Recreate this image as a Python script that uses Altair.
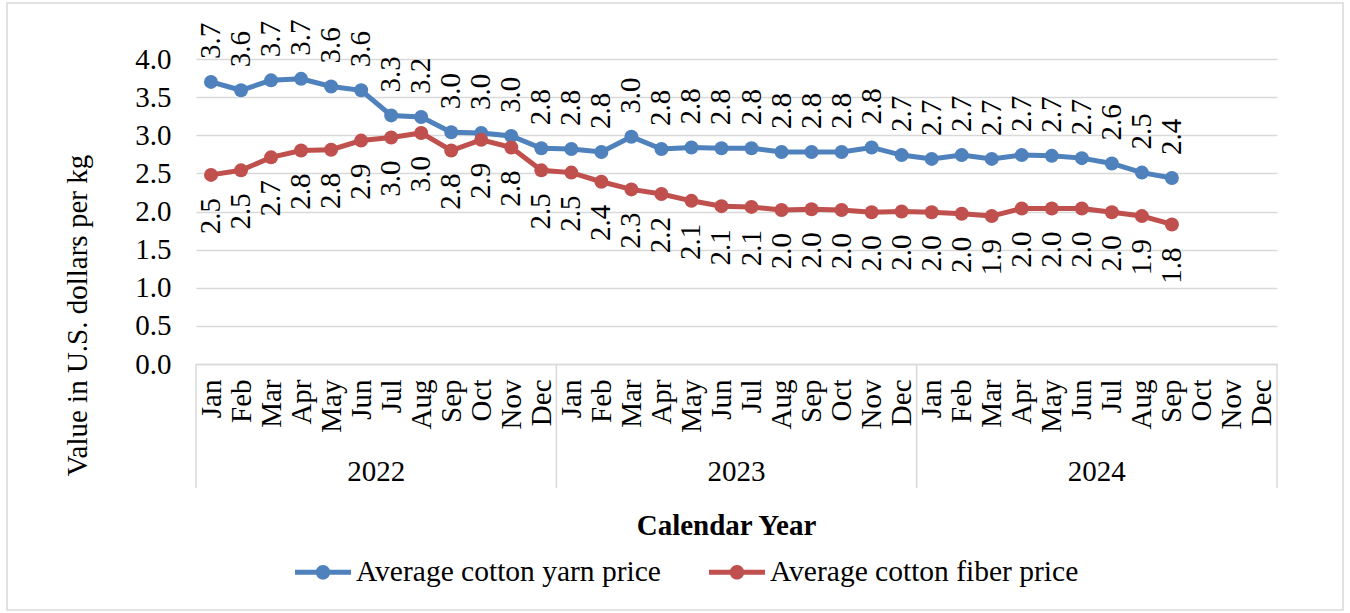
import altair as alt
import pandas as pd

MONTHS = ["Jan", "Feb", "Mar", "Apr", "May", "Jun", "Jul", "Aug", "Sep", "Oct", "Nov", "Dec"]
YEARS = ["2022", "2023", "2024"]

yarn = [3.70, 3.59, 3.72, 3.74, 3.64, 3.59, 3.26, 3.24, 3.04, 3.03, 2.99, 2.83,
        2.82, 2.78, 2.98, 2.82, 2.84, 2.83, 2.83, 2.78, 2.78, 2.78, 2.84, 2.74,
        2.69, 2.74, 2.69, 2.74, 2.73, 2.70, 2.63, 2.51, 2.44]
fiber = [2.48, 2.54, 2.71, 2.80, 2.81, 2.93, 2.97, 3.03, 2.80, 2.94, 2.84, 2.54,
         2.51, 2.39, 2.29, 2.23, 2.14, 2.07, 2.06, 2.02, 2.03, 2.02, 1.99, 2.00,
         1.99, 1.97, 1.94, 2.04, 2.04, 2.04, 1.99, 1.94, 1.83]

YARN = "Average cotton yarn price"
FIBER = "Average cotton fiber price"
BLUE = "#4F81BD"
RED = "#C0504D"
FONT = "Liberation Serif"
FS = 29
GRID = "#d9d9d9"

rows = []
for name, vals in ((YARN, yarn), (FIBER, fiber)):
    for i, v in enumerate(vals):
        rows.append({"pos": i + 0.5, "value": v, "series": name})
df = pd.DataFrame(rows)

years_df = pd.DataFrame({"year": YEARS, "center": [12 * i + 6 for i in range(len(YEARS))]})
bounds_df = pd.DataFrame({"b": [12 * i for i in range(len(YEARS) + 1)]})

n_slots = 12 * len(YEARS)
month_js = "[" + ",".join("'%s'" % m for m in MONTHS) + "]"

W, H = 1081, 305

xscale = alt.Scale(domain=[0, n_slots], nice=False, zero=False)
yscale = alt.Scale(domain=[0, 4], nice=False)
cscale = alt.Scale(domain=[YARN, FIBER], range=[BLUE, RED])

xaxis = alt.Axis(values=[i + 0.5 for i in range(n_slots)],
                 labelExpr=month_js + "[floor(datum.value) % 12]",
                 labelAngle=270, labelAlign="right", labelBaseline="middle",
                 labelPadding=15, ticks=False, grid=False,
                 domainColor=GRID, domainWidth=1.5,
                 labelFont=FONT, labelFontSize=FS, labelColor="black",
                 titleFont=FONT, titleFontSize=FS, titleColor="black",
                 title="Calendar Year", titleFontWeight="bold",
                 titleX=530, titleY=161, titleBaseline="middle",
                 titleAlign="center")
yaxis = alt.Axis(values=[i * 0.5 for i in range(9)], format=".1f",
                 ticks=False, domain=False, gridColor=GRID, gridWidth=1.5,
                 labelFont=FONT, labelFontSize=FS, labelColor="black",
                 titleFont=FONT, titleFontSize=FS, titleColor="black",
                 labelPadding=25, title="Value in U.S. dollars per kg",
                 titleFontWeight="normal", titleX=-119, titleY=256,
                 titleAngle=270, titleAlign="center",
                 titleBaseline="middle")

sym = ("M-1,-0.09L1,-0.09L1,0.09L-1,0.09Z"
       "M-0.26,0A0.26,0.26,0,1,1,0.26,0A0.26,0.26,0,1,1,-0.26,0Z")
legend = alt.Legend(orient="none", legendX=99, legendY=485,
                    direction="horizontal", title=None,
                    symbolType=sym, symbolSize=3136,
                    symbolStrokeWidth=0, symbolOpacity=1,
                    labelFont=FONT, labelFontSize=29.5,
                    labelColor="black", labelLimit=600,
                    columnPadding=48, labelOffset=5)


def X(field):
    return alt.X(field, scale=xscale, axis=xaxis)


def Y(field):
    return alt.Y(field, scale=yscale, axis=yaxis)


base = alt.Chart(df)

lines = base.mark_line(strokeWidth=5).encode(
    x=X("pos:Q"), y=Y("value:Q"),
    color=alt.Color("series:N", scale=cscale, legend=legend),
)

points = base.mark_point(filled=True, size=196, opacity=1).encode(
    x=X("pos:Q"), y=Y("value:Q"),
    color=alt.Color("series:N", scale=cscale, legend=legend),
)

yarn_labels = base.transform_filter(alt.datum.series == YARN).mark_text(
    angle=270, align="left", baseline="middle", dx=23,
    font=FONT, fontSize=FS, color="black",
).encode(
    x=X("pos:Q"), y=Y("value:Q"),
    text=alt.Text("value:Q", format=".1f"),
)

fiber_labels = base.transform_filter(alt.datum.series == FIBER).mark_text(
    angle=270, align="right", baseline="middle", dx=-23,
    font=FONT, fontSize=FS, color="black",
).encode(
    x=X("pos:Q"), y=Y("value:Q"),
    text=alt.Text("value:Q", format=".1f"),
)

year_text = alt.Chart(years_df).mark_text(
    font=FONT, fontSize=FS, color="black", baseline="middle", align="center",
).encode(
    x=X("center:Q"),
    y=alt.value(413),
    text="year:N",
)

seps = alt.Chart(bounds_df).mark_rule(color=GRID, strokeWidth=1.5).encode(
    x=X("b:Q"),
    y=alt.value(H),
    y2=alt.value(429),
)

border = alt.Chart(pd.DataFrame({"a": [0]})).mark_rect(
    filled=False, stroke=GRID, strokeWidth=1.5,
).encode(
    x=alt.value(-189), x2=alt.value(1147), y=alt.value(-56), y2=alt.value(551),
)

chart = alt.layer(lines, points, yarn_labels, fiber_labels, year_text, seps, border).properties(
    width=W, height=H,
    background="white",
    autosize=alt.AutoSizeParams(type="none"),
    padding={"left": 196, "top": 59, "right": 73, "bottom": 249},
).configure_view(strokeWidth=0).configure_text(font=FONT).configure_legend(labelFont=FONT)

chart.save("out.html", embed_options={"renderer": "svg", "actions": False})
